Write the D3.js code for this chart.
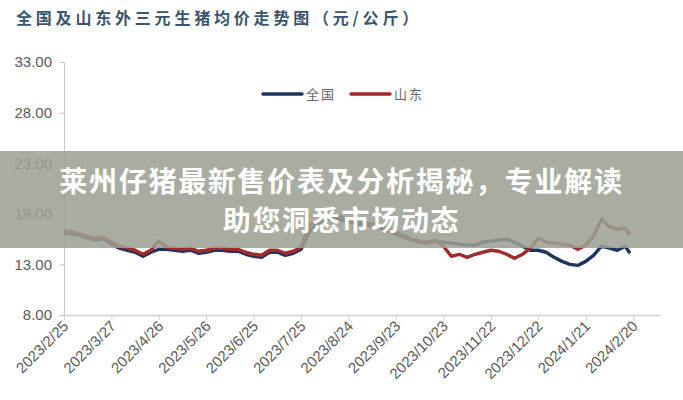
<!DOCTYPE html>
<html><head><meta charset="utf-8">
<script src="https://cdn.jsdelivr.net/npm/d3@7/dist/d3.min.js"></script>
<style>body{margin:0;background:#fff;}svg{display:block;}</style>
</head><body>
<script>
const title = "全国及山东外三元生猪均价走势图（元/公斤）";
const seriesNames = ["全国", "山东"];
const seriesColors = ["#1f3461", "#a32a2a"];
const bannerLines = ["莱州仔猪最新售价表及分析揭秘，专业解读", "助您洞悉市场动态"];
const yTicks = [8, 13, 18, 23, 28, 33];
const xTicks = ["2023-02-25","2023-03-27","2023-04-26","2023-05-26","2023-06-25","2023-07-25","2023-08-24","2023-09-23","2023-10-23","2023-11-22","2023-12-22","2024-01-21","2024-02-20"];
const dates = ["2023-02-25","2023-03-02","2023-03-07","2023-03-12","2023-03-17","2023-03-22","2023-03-27","2023-04-01","2023-04-06","2023-04-11","2023-04-16","2023-04-21","2023-04-26","2023-05-01","2023-05-06","2023-05-11","2023-05-16","2023-05-21","2023-05-26","2023-05-31","2023-06-05","2023-06-10","2023-06-15","2023-06-20","2023-06-25","2023-06-30","2023-07-05","2023-07-10","2023-07-15","2023-07-20","2023-07-25","2023-07-30","2023-08-04","2023-08-09","2023-08-14","2023-08-19","2023-08-24","2023-08-29","2023-09-03","2023-09-08","2023-09-13","2023-09-18","2023-09-23","2023-09-28","2023-10-03","2023-10-08","2023-10-13","2023-10-18","2023-10-23","2023-10-28","2023-11-02","2023-11-07","2023-11-12","2023-11-17","2023-11-22","2023-11-27","2023-12-02","2023-12-07","2023-12-12","2023-12-17","2023-12-22","2023-12-27","2024-01-01","2024-01-06","2024-01-11","2024-01-16","2024-01-21","2024-01-26","2024-01-31","2024-02-05","2024-02-10","2024-02-15","2024-02-18"];
const national = [16.1,16.0,15.9,15.6,15.4,15.5,15.0,14.6,14.4,14.2,13.8,14.2,14.5,14.5,14.4,14.3,14.4,14.1,14.2,14.4,14.4,14.3,14.3,14.0,13.8,13.7,14.2,14.2,13.9,14.1,14.5,16.2,17.0,17.4,17.6,17.4,17.2,17.0,16.9,16.8,16.6,16.3,16.0,15.7,15.4,15.2,15.1,15.3,15.2,15.1,15.0,14.9,14.9,15.2,15.3,15.4,15.5,15.2,14.8,14.4,14.4,14.2,13.7,13.3,13.0,12.9,13.3,13.9,14.8,14.6,14.4,14.8,14.1];
const shandong = [16.3,16.2,16.0,15.8,15.6,15.7,15.2,14.8,14.6,14.4,14.0,14.4,15.3,14.7,14.6,14.5,14.6,14.3,14.4,14.6,14.6,14.5,14.5,14.2,14.0,13.9,14.4,14.4,14.1,14.3,14.7,16.9,17.3,17.7,17.9,17.7,17.4,17.2,17.1,17.0,16.8,16.5,16.2,15.8,15.5,15.3,15.2,15.4,14.8,13.8,14.0,13.7,14.0,14.2,14.4,14.3,14.0,13.6,14.0,14.6,15.6,15.2,15.1,15.0,14.9,14.5,14.9,15.8,17.5,16.7,16.5,16.6,15.9];

const W = 683, H = 400;
const parse = d3.timeParse("%Y-%m-%d");
const fmt = d3.timeFormat("%Y/%-m/%-d");
const svg = d3.select("body").append("svg").attr("width", W).attr("height", H);

const x = d3.scaleTime().domain([parse("2023-02-25"), parse("2024-03-08")]).range([64, 660]);
const y = d3.scaleLinear().domain([8, 33]).range([315, 62]);

svg.append("text").attr("x", 16).attr("y", 24).text(title)
  .attr("font-family", "'Noto Sans CJK SC'").attr("font-weight", "bold")
  .attr("font-size", 16).attr("letter-spacing", 3.8).attr("fill", "#3a5570");

// y axis
const ya = svg.append("g").attr("transform", "translate(64,0)")
  .call(d3.axisLeft(y).tickValues(yTicks).tickSize(5).tickPadding(7).tickFormat(d3.format(".2f")));
ya.select(".domain").attr("stroke", "#c8c8c8");
ya.selectAll(".tick line").attr("stroke", "#c8c8c8");
ya.selectAll("text").attr("font-family", "'Liberation Sans'").attr("font-size", 15).attr("fill", "#5a5a5a");

// x axis
const xa = svg.append("g").attr("transform", "translate(0,315)")
  .call(d3.axisBottom(x).tickValues(xTicks.map(parse)).tickSize(5).tickSizeOuter(0).tickFormat(fmt));
xa.select(".domain").attr("stroke", "#d0d0d0").attr("stroke-width", 1.5);
xa.selectAll(".tick line").attr("stroke", "#d0d0d0");
xa.selectAll("text").attr("font-family", "'Liberation Sans'").attr("font-size", 15).attr("fill", "#5a5a5a")
  .attr("text-anchor", "end").attr("dy", null).attr("y", 0)
  .attr("transform", "translate(5,12) rotate(-45)");

// lines
const data = [national, shandong];
const line = d3.line().x((d, i) => x(parse(dates[i]))).y(d => y(d)).curve(d3.curveLinear);
data.forEach((vals, s) => {
  svg.append("path").datum(vals).attr("d", line).attr("fill", "none")
    .attr("stroke", seriesColors[s]).attr("stroke-width", 3.4).attr("stroke-linejoin", "round");
});

// legend
const lg = [[263, 306], [351, 394]];
seriesNames.forEach((n, i) => {
  svg.append("line").attr("x1", lg[i][0]).attr("x2", lg[i][0] + 39).attr("y1", 94).attr("y2", 94)
    .attr("stroke", seriesColors[i]).attr("stroke-width", 3.5).attr("stroke-linecap", "round");
  svg.append("text").attr("x", lg[i][1]).attr("y", 99).text(n)
    .attr("font-family", "'Noto Sans CJK SC'").attr("font-size", 13).attr("letter-spacing", 2).attr("fill", "#666");
});

// banner overlay
svg.append("rect").attr("x", 0).attr("y", 151).attr("width", W).attr("height", 97)
  .attr("fill", "rgb(155,160,146)").attr("opacity", 0.86);
bannerLines.forEach((t, i) => {
  svg.append("text").attr("x", W / 2).attr("y", 192 + i * 39).attr("text-anchor", "middle").text(t)
    .attr("font-family", "'Noto Sans CJK SC'").attr("font-weight", "bold").attr("font-size", 28)
    .attr("letter-spacing", 1.7).attr("fill", "#fff");
});
</script>
</body></html>
